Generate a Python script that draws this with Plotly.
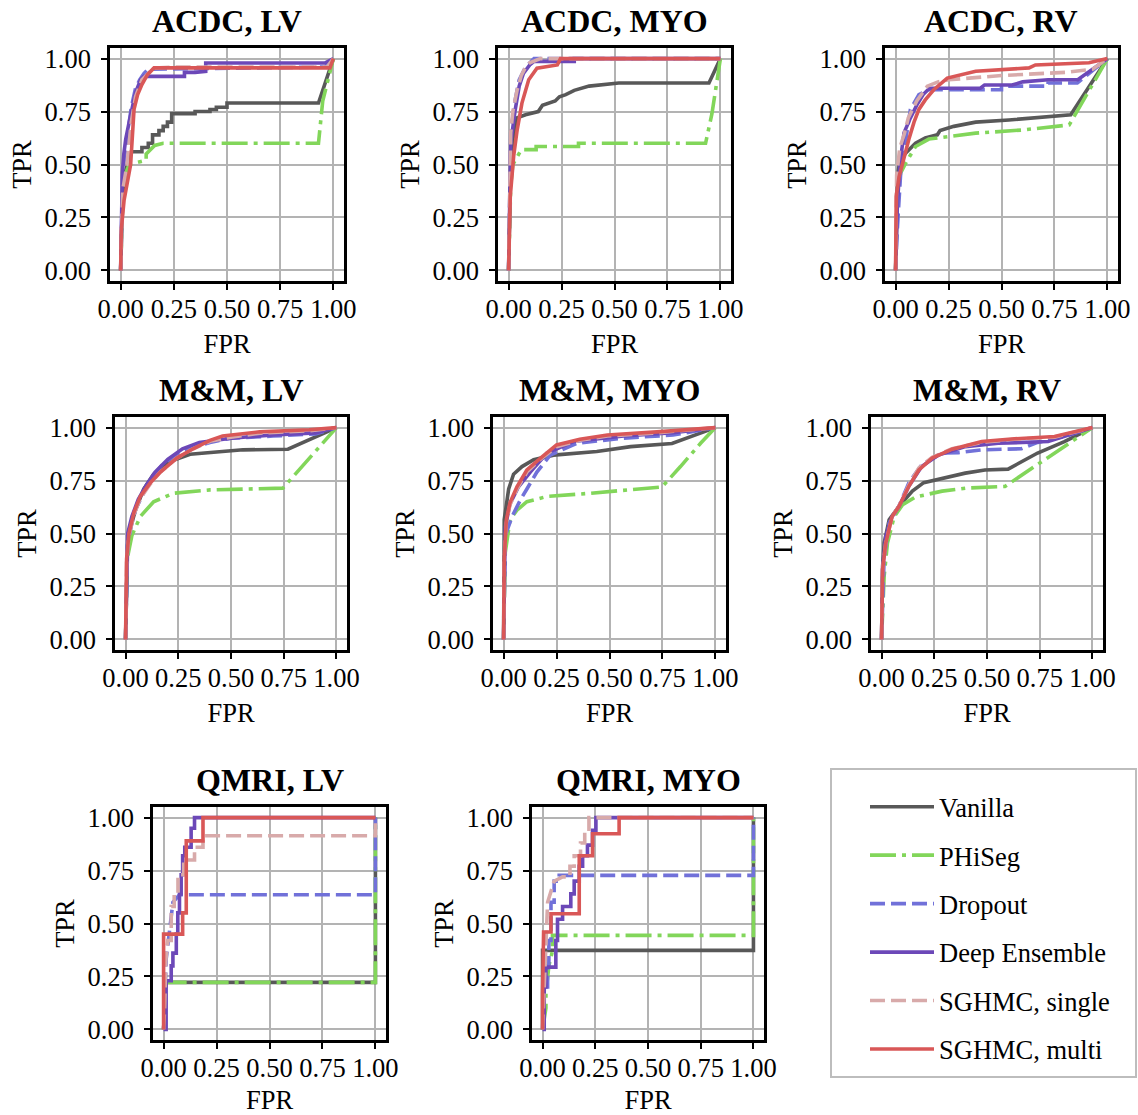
import plotly.graph_objects as go

# ---------------- metadata ----------------
methods = ["Vanilla", "PHiSeg", "Dropout", "Deep Ensemble", "SGHMC, single", "SGHMC, multi"]
colors = ["#585858", "#82d65a", "#7171d9", "#6c48b8", "#d8aaaa", "#d95757"]
dashes = ["solid", "26px,6px,4px,6px", "15px,6px", "solid", "15px,6px", "solid"]
panel_titles = ["ACDC, LV", "ACDC, MYO", "ACDC, RV",
                "M&M, LV", "M&M, MYO", "M&M, RV",
                "QMRI, LV", "QMRI, MYO"]
tick_vals = [0, 0.25, 0.5, 0.75, 1.0]
tick_text = ["0.00", "0.25", "0.50", "0.75", "1.00"]

# ---------------- ACDC, LV ----------------
acdc_lv_vanilla_fpr = [0, 0.005, 0.01, 0.02, 0.03, 0.05, 0.1, 0.1, 0.13, 0.13, 0.15, 0.15, 0.18, 0.18, 0.2, 0.2, 0.22, 0.22, 0.24, 0.24, 0.35, 0.35, 0.42, 0.42, 0.45, 0.45, 0.5, 0.5, 0.93, 1.0]
acdc_lv_vanilla_tpr = [0, 0.2, 0.35, 0.45, 0.5, 0.56, 0.56, 0.58, 0.58, 0.6, 0.6, 0.64, 0.64, 0.66, 0.66, 0.68, 0.68, 0.7, 0.7, 0.74, 0.74, 0.75, 0.75, 0.76, 0.76, 0.77, 0.77, 0.79, 0.79, 1.0]
acdc_lv_phiseg_fpr = [0, 0.005, 0.01, 0.02, 0.04, 0.08, 0.12, 0.12, 0.14, 0.16, 0.2, 0.93, 0.95, 1.0]
acdc_lv_phiseg_tpr = [0, 0.2, 0.35, 0.45, 0.5, 0.51, 0.52, 0.55, 0.57, 0.59, 0.6, 0.6, 0.8, 1.0]
acdc_lv_dropout_fpr = [0, 0.005, 0.01, 0.02, 0.03, 0.05, 0.07, 0.09, 0.11, 0.13, 0.96, 1.0]
acdc_lv_dropout_tpr = [0, 0.3, 0.45, 0.55, 0.62, 0.77, 0.86, 0.9, 0.93, 0.95, 0.96, 1.0]
acdc_lv_deep_fpr = [0, 0.004, 0.008, 0.015, 0.024, 0.04, 0.055, 0.07, 0.094, 0.11, 0.3, 0.3, 0.35, 0.4, 0.4, 0.96, 1.0]
acdc_lv_deep_tpr = [0, 0.3, 0.46, 0.55, 0.62, 0.7, 0.77, 0.84, 0.9, 0.916, 0.916, 0.935, 0.935, 0.94, 0.979, 0.979, 1.0]
acdc_lv_single_fpr = [0, 0.005, 0.01, 0.03, 0.05, 0.07, 0.1, 0.14, 0.16, 0.25, 0.97, 1.0]
acdc_lv_single_tpr = [0, 0.25, 0.38, 0.5, 0.7, 0.82, 0.9, 0.94, 0.955, 0.96, 0.96, 1.0]
acdc_lv_multi_fpr = [0, 0.003, 0.016, 0.03, 0.047, 0.063, 0.08, 0.10, 0.126, 0.157, 0.984, 1.0]
acdc_lv_multi_tpr = [0, 0.19, 0.33, 0.41, 0.5, 0.76, 0.83, 0.877, 0.924, 0.956, 0.956, 1.0]

# ---------------- ACDC, MYO ----------------
acdc_myo_vanilla_fpr = [0, 0.005, 0.01, 0.02, 0.03, 0.04, 0.08, 0.14, 0.16, 0.22, 0.24, 0.27, 0.31, 0.38, 0.52, 0.946, 1.0]
acdc_myo_vanilla_tpr = [0, 0.3, 0.5, 0.62, 0.68, 0.72, 0.735, 0.75, 0.78, 0.80, 0.82, 0.83, 0.85, 0.87, 0.885, 0.885, 1.0]
acdc_myo_phiseg_fpr = [0, 0.005, 0.01, 0.02, 0.047, 0.06, 0.13, 0.13, 0.33, 0.33, 0.93, 0.96, 1.0]
acdc_myo_phiseg_tpr = [0, 0.25, 0.4, 0.5, 0.545, 0.57, 0.57, 0.585, 0.585, 0.6, 0.6, 0.74, 1.0]
acdc_myo_dropout_fpr = [0, 0.005, 0.01, 0.03, 0.05, 0.08, 0.12, 1.0]
acdc_myo_dropout_tpr = [0, 0.45, 0.65, 0.8, 0.9, 0.96, 1.0, 1.0]
acdc_myo_deep_fpr = [0, 0.005, 0.01, 0.03, 0.05, 0.07, 0.1, 0.12, 0.31, 0.31, 1.0]
acdc_myo_deep_tpr = [0, 0.4, 0.6, 0.75, 0.87, 0.93, 0.97, 0.987, 0.987, 1.0, 1.0]
acdc_myo_single_fpr = [0, 0.005, 0.01, 0.02, 0.04, 0.06, 0.08, 0.1, 0.15, 1.0]
acdc_myo_single_tpr = [0, 0.5, 0.65, 0.75, 0.85, 0.92, 0.96, 0.98, 1.0, 1.0]
acdc_myo_multi_fpr = [0, 0.008, 0.024, 0.04, 0.063, 0.095, 0.134, 0.23, 0.245, 1.0]
acdc_myo_multi_tpr = [0, 0.35, 0.54, 0.66, 0.79, 0.90, 0.955, 0.97, 1.0, 1.0]

# ---------------- ACDC, RV ----------------
acdc_rv_vanilla_fpr = [0, 0.005, 0.01, 0.02, 0.047, 0.094, 0.14, 0.197, 0.21, 0.275, 0.378, 0.535, 0.646, 0.78, 0.827, 1.0]
acdc_rv_vanilla_tpr = [0, 0.3, 0.45, 0.52, 0.553, 0.6, 0.625, 0.64, 0.66, 0.68, 0.70, 0.71, 0.72, 0.73, 0.735, 1.0]
acdc_rv_phiseg_fpr = [0, 0.005, 0.01, 0.024, 0.047, 0.094, 0.157, 0.25, 0.378, 0.6, 0.82, 1.0]
acdc_rv_phiseg_tpr = [0, 0.2, 0.38, 0.46, 0.505, 0.585, 0.62, 0.632, 0.648, 0.663, 0.687, 1.0]
acdc_rv_dropout_fpr = [0, 0.008, 0.024, 0.047, 0.07, 0.11, 0.157, 0.50, 0.50, 0.72, 0.72, 0.858, 1.0]
acdc_rv_dropout_tpr = [0, 0.19, 0.46, 0.62, 0.76, 0.83, 0.853, 0.853, 0.87, 0.87, 0.885, 0.885, 1.0]
acdc_rv_deep_fpr = [0, 0.008, 0.02, 0.04, 0.07, 0.1, 0.13, 0.16, 0.40, 0.42, 0.55, 0.6, 0.72, 0.86, 1.0]
acdc_rv_deep_tpr = [0, 0.3, 0.5, 0.65, 0.72, 0.78, 0.83, 0.86, 0.86, 0.875, 0.875, 0.89, 0.90, 0.90, 1.0]
acdc_rv_single_fpr = [0, 0.005, 0.02, 0.04, 0.06, 0.1, 0.15, 0.2, 0.25, 0.5, 0.8, 0.93, 1.0]
acdc_rv_single_tpr = [0, 0.45, 0.58, 0.64, 0.72, 0.8, 0.87, 0.89, 0.9, 0.92, 0.935, 0.95, 1.0]
acdc_rv_multi_fpr = [0, 0.003, 0.016, 0.04, 0.063, 0.087, 0.11, 0.14, 0.18, 0.244, 0.378, 0.63, 0.66, 0.913, 1.0]
acdc_rv_multi_tpr = [0, 0.35, 0.44, 0.54, 0.62, 0.70, 0.76, 0.805, 0.853, 0.908, 0.94, 0.956, 0.97, 0.98, 1.0]

# ---------------- M&M, LV ----------------
mm_lv_vanilla_fpr = [0, 0.005, 0.01, 0.024, 0.047, 0.086, 0.133, 0.19, 0.21, 0.306, 0.557, 0.77, 1.0]
mm_lv_vanilla_tpr = [0, 0.35, 0.45, 0.53, 0.61, 0.71, 0.78, 0.824, 0.84, 0.874, 0.895, 0.898, 1.0]
mm_lv_phiseg_fpr = [0, 0.003, 0.008, 0.03, 0.07, 0.133, 0.228, 0.40, 0.746, 1.0]
mm_lv_phiseg_tpr = [0, 0.3, 0.38, 0.49, 0.58, 0.65, 0.69, 0.706, 0.714, 1.0]
mm_lv_dropout_fpr = [0, 0.005, 0.01, 0.03, 0.05, 0.08, 0.1, 0.13, 0.17, 0.22, 0.3, 0.4, 0.5, 0.7, 0.9, 1.0]
mm_lv_dropout_tpr = [0, 0.35, 0.45, 0.55, 0.62, 0.68, 0.72, 0.77, 0.82, 0.86, 0.9, 0.93, 0.95, 0.96, 0.97, 1.0]
mm_lv_deep_fpr = [0, 0.005, 0.01, 0.03, 0.06, 0.1, 0.14, 0.2, 0.27, 0.35, 0.5, 0.7, 0.9, 1.0]
mm_lv_deep_tpr = [0, 0.4, 0.5, 0.58, 0.66, 0.73, 0.79, 0.85, 0.9, 0.93, 0.95, 0.965, 0.975, 1.0]
mm_lv_single_fpr = [0, 0.005, 0.016, 0.04, 0.07, 0.118, 0.165, 0.243, 0.32, 0.4, 0.5, 0.65, 0.87, 1.0]
mm_lv_single_tpr = [0, 0.37, 0.49, 0.59, 0.665, 0.735, 0.79, 0.856, 0.9, 0.935, 0.955, 0.975, 0.985, 1.0]
mm_lv_multi_fpr = [0, 0.005, 0.016, 0.04, 0.07, 0.118, 0.165, 0.243, 0.32, 0.40, 0.46, 0.636, 0.87, 1.0]
mm_lv_multi_tpr = [0, 0.38, 0.50, 0.60, 0.675, 0.74, 0.79, 0.856, 0.90, 0.94, 0.96, 0.98, 0.99, 1.0]

# ---------------- M&M, MYO ----------------
mm_myo_vanilla_fpr = [0, 0.001, 0.003, 0.024, 0.047, 0.087, 0.142, 0.236, 0.44, 0.60, 0.795, 1.0]
mm_myo_vanilla_tpr = [0, 0.4, 0.565, 0.71, 0.78, 0.816, 0.848, 0.87, 0.887, 0.91, 0.925, 1.0]
mm_myo_phiseg_fpr = [0, 0.003, 0.008, 0.03, 0.063, 0.11, 0.205, 0.41, 0.614, 0.748, 0.835, 0.93, 1.0]
mm_myo_phiseg_tpr = [0, 0.3, 0.41, 0.565, 0.61, 0.65, 0.675, 0.69, 0.707, 0.72, 0.816, 0.926, 1.0]
mm_myo_dropout_fpr = [0, 0.003, 0.008, 0.04, 0.08, 0.11, 0.157, 0.22, 0.346, 0.567, 0.80, 1.0]
mm_myo_dropout_tpr = [0, 0.35, 0.49, 0.58, 0.66, 0.71, 0.79, 0.87, 0.926, 0.95, 0.965, 1.0]
mm_myo_deep_fpr = [0, 0.003, 0.008, 0.03, 0.07, 0.126, 0.205, 0.33, 0.567, 0.8, 1.0]
mm_myo_deep_tpr = [0, 0.4, 0.53, 0.64, 0.72, 0.79, 0.88, 0.934, 0.96, 0.976, 1.0]
mm_myo_single_fpr = [0, 0.003, 0.013, 0.03, 0.063, 0.11, 0.173, 0.25, 0.36, 0.49, 0.724, 1.0]
mm_myo_single_tpr = [0, 0.38, 0.55, 0.635, 0.71, 0.79, 0.85, 0.91, 0.94, 0.96, 0.975, 1.0]
mm_myo_multi_fpr = [0, 0.003, 0.013, 0.03, 0.063, 0.11, 0.173, 0.25, 0.36, 0.49, 0.724, 1.0]
mm_myo_multi_tpr = [0, 0.38, 0.565, 0.645, 0.72, 0.80, 0.855, 0.918, 0.945, 0.965, 0.98, 1.0]

# ---------------- M&M, RV ----------------
mm_rv_vanilla_fpr = [0, 0.005, 0.0125, 0.036, 0.083, 0.146, 0.20, 0.287, 0.397, 0.49, 0.60, 0.74, 0.867, 1.0]
mm_rv_vanilla_tpr = [0, 0.345, 0.455, 0.565, 0.628, 0.70, 0.74, 0.76, 0.785, 0.80, 0.804, 0.88, 0.934, 1.0]
mm_rv_phiseg_fpr = [0, 0.0125, 0.028, 0.06, 0.10, 0.16, 0.287, 0.397, 0.585, 0.726, 0.867, 1.0]
mm_rv_phiseg_tpr = [0, 0.30, 0.455, 0.58, 0.636, 0.672, 0.70, 0.714, 0.722, 0.816, 0.91, 1.0]
mm_rv_dropout_fpr = [0, 0.012, 0.036, 0.083, 0.13, 0.19, 0.287, 0.365, 0.475, 0.663, 0.74, 0.867, 1.0]
mm_rv_dropout_tpr = [0, 0.38, 0.55, 0.63, 0.74, 0.824, 0.88, 0.882, 0.895, 0.90, 0.93, 0.958, 1.0]
mm_rv_deep_fpr = [0, 0.005, 0.02, 0.05, 0.083, 0.13, 0.19, 0.27, 0.397, 0.553, 0.79, 1.0]
mm_rv_deep_tpr = [0, 0.33, 0.487, 0.58, 0.628, 0.724, 0.816, 0.87, 0.91, 0.926, 0.934, 1.0]
mm_rv_single_fpr = [0, 0.005, 0.02, 0.05, 0.083, 0.13, 0.177, 0.24, 0.334, 0.475, 0.63, 0.82, 1.0]
mm_rv_single_tpr = [0, 0.33, 0.455, 0.58, 0.63, 0.73, 0.81, 0.86, 0.9, 0.93, 0.945, 0.955, 1.0]
mm_rv_multi_fpr = [0, 0.005, 0.02, 0.05, 0.083, 0.13, 0.177, 0.24, 0.334, 0.475, 0.63, 0.82, 1.0]
mm_rv_multi_tpr = [0, 0.33, 0.455, 0.58, 0.628, 0.724, 0.80, 0.856, 0.898, 0.934, 0.947, 0.958, 1.0]

# ---------------- QMRI, LV ----------------
qmri_lv_vanilla_fpr = [0, 0.01, 1.0, 1.0]
qmri_lv_vanilla_tpr = [0, 0.222, 0.222, 1.0]
qmri_lv_phiseg_fpr = [0, 0.01, 1.0, 1.0]
qmri_lv_phiseg_tpr = [0, 0.222, 0.222, 1.0]
qmri_lv_dropout_fpr = [0, 0.005, 0.012, 0.028, 0.044, 0.075, 1.0, 1.0]
qmri_lv_dropout_tpr = [0, 0.1, 0.33, 0.45, 0.6, 0.636, 0.636, 1.0]
qmri_lv_deep_fpr = [0, 0.012, 0.012, 0.036, 0.036, 0.044, 0.044, 0.06, 0.06, 0.067, 0.067, 0.075, 0.075, 0.083, 0.083, 0.09, 0.09, 0.1, 0.1, 0.13, 0.13, 0.146, 0.146, 1.0]
qmri_lv_deep_tpr = [0, 0.0, 0.23, 0.23, 0.3, 0.3, 0.36, 0.36, 0.45, 0.45, 0.55, 0.55, 0.64, 0.64, 0.73, 0.73, 0.82, 0.82, 0.86, 0.86, 0.95, 0.95, 1.0, 1.0]
qmri_lv_single_fpr = [0, 0.005, 0.01, 0.02, 0.036, 0.036, 0.05, 0.05, 0.068, 0.068, 0.095, 0.095, 0.146, 0.146, 0.186, 0.186, 1.0, 1.0]
qmri_lv_single_tpr = [0, 0.1, 0.32, 0.42, 0.42, 0.58, 0.58, 0.64, 0.64, 0.73, 0.73, 0.8, 0.8, 0.86, 0.86, 0.914, 0.914, 1.0]
qmri_lv_multi_fpr = [0, 0, 0.09, 0.09, 0.107, 0.107, 0.186, 0.186, 1.0]
qmri_lv_multi_tpr = [0, 0.45, 0.45, 0.55, 0.55, 0.89, 0.89, 1.0, 1.0]

# ---------------- QMRI, MYO ----------------
qmri_myo_vanilla_fpr = [0, 0, 1.0, 1.0]
qmri_myo_vanilla_tpr = [0, 0.373, 0.373, 1.0]
qmri_myo_phiseg_fpr = [0, 0.016, 0.016, 0.03, 0.047, 0.047, 1.0, 1.0]
qmri_myo_phiseg_tpr = [0, 0.1, 0.17, 0.3, 0.37, 0.444, 0.444, 1.0]
qmri_myo_dropout_fpr = [0, 0.008, 0.024, 0.024, 0.03, 0.03, 0.04, 0.04, 0.055, 0.055, 0.079, 0.079, 1.0, 1.0]
qmri_myo_dropout_tpr = [0, 0.2, 0.2, 0.3, 0.3, 0.42, 0.42, 0.6, 0.6, 0.7, 0.7, 0.727, 0.727, 1.0]
qmri_myo_deep_fpr = [0, 0.008, 0.008, 0.016, 0.016, 0.063, 0.063, 0.071, 0.071, 0.095, 0.095, 0.134, 0.134, 0.15, 0.15, 0.174, 0.174, 0.19, 0.19, 0.213, 0.213, 0.237, 0.237, 0.253, 0.253, 1.0]
qmri_myo_deep_tpr = [0, 0.0, 0.2, 0.2, 0.294, 0.294, 0.42, 0.42, 0.52, 0.52, 0.58, 0.58, 0.64, 0.64, 0.7, 0.7, 0.77, 0.77, 0.82, 0.82, 0.87, 0.87, 0.94, 0.94, 1.0, 1.0]
qmri_myo_single_fpr = [0, 0.008, 0.016, 0.024, 0.055, 0.095, 0.13, 0.13, 0.15, 0.15, 0.18, 0.18, 0.2, 0.2, 0.22, 0.22, 1.0]
qmri_myo_single_tpr = [0, 0.25, 0.4, 0.6, 0.7, 0.72, 0.72, 0.77, 0.77, 0.82, 0.82, 0.88, 0.88, 0.93, 0.93, 1.0, 1.0]
qmri_myo_multi_fpr = [0, 0, 0.005, 0.04, 0.04, 0.174, 0.174, 0.237, 0.237, 0.363, 0.363, 1.0]
qmri_myo_multi_tpr = [0, 0.17, 0.46, 0.46, 0.546, 0.546, 0.82, 0.82, 0.924, 0.924, 1.0, 1.0]

panels = [
    [(acdc_lv_vanilla_fpr, acdc_lv_vanilla_tpr), (acdc_lv_phiseg_fpr, acdc_lv_phiseg_tpr),
     (acdc_lv_dropout_fpr, acdc_lv_dropout_tpr), (acdc_lv_deep_fpr, acdc_lv_deep_tpr),
     (acdc_lv_single_fpr, acdc_lv_single_tpr), (acdc_lv_multi_fpr, acdc_lv_multi_tpr)],
    [(acdc_myo_vanilla_fpr, acdc_myo_vanilla_tpr), (acdc_myo_phiseg_fpr, acdc_myo_phiseg_tpr),
     (acdc_myo_dropout_fpr, acdc_myo_dropout_tpr), (acdc_myo_deep_fpr, acdc_myo_deep_tpr),
     (acdc_myo_single_fpr, acdc_myo_single_tpr), (acdc_myo_multi_fpr, acdc_myo_multi_tpr)],
    [(acdc_rv_vanilla_fpr, acdc_rv_vanilla_tpr), (acdc_rv_phiseg_fpr, acdc_rv_phiseg_tpr),
     (acdc_rv_dropout_fpr, acdc_rv_dropout_tpr), (acdc_rv_deep_fpr, acdc_rv_deep_tpr),
     (acdc_rv_single_fpr, acdc_rv_single_tpr), (acdc_rv_multi_fpr, acdc_rv_multi_tpr)],
    [(mm_lv_vanilla_fpr, mm_lv_vanilla_tpr), (mm_lv_phiseg_fpr, mm_lv_phiseg_tpr),
     (mm_lv_dropout_fpr, mm_lv_dropout_tpr), (mm_lv_deep_fpr, mm_lv_deep_tpr),
     (mm_lv_single_fpr, mm_lv_single_tpr), (mm_lv_multi_fpr, mm_lv_multi_tpr)],
    [(mm_myo_vanilla_fpr, mm_myo_vanilla_tpr), (mm_myo_phiseg_fpr, mm_myo_phiseg_tpr),
     (mm_myo_dropout_fpr, mm_myo_dropout_tpr), (mm_myo_deep_fpr, mm_myo_deep_tpr),
     (mm_myo_single_fpr, mm_myo_single_tpr), (mm_myo_multi_fpr, mm_myo_multi_tpr)],
    [(mm_rv_vanilla_fpr, mm_rv_vanilla_tpr), (mm_rv_phiseg_fpr, mm_rv_phiseg_tpr),
     (mm_rv_dropout_fpr, mm_rv_dropout_tpr), (mm_rv_deep_fpr, mm_rv_deep_tpr),
     (mm_rv_single_fpr, mm_rv_single_tpr), (mm_rv_multi_fpr, mm_rv_multi_tpr)],
    [(qmri_lv_vanilla_fpr, qmri_lv_vanilla_tpr), (qmri_lv_phiseg_fpr, qmri_lv_phiseg_tpr),
     (qmri_lv_dropout_fpr, qmri_lv_dropout_tpr), (qmri_lv_deep_fpr, qmri_lv_deep_tpr),
     (qmri_lv_single_fpr, qmri_lv_single_tpr), (qmri_lv_multi_fpr, qmri_lv_multi_tpr)],
    [(qmri_myo_vanilla_fpr, qmri_myo_vanilla_tpr), (qmri_myo_phiseg_fpr, qmri_myo_phiseg_tpr),
     (qmri_myo_dropout_fpr, qmri_myo_dropout_tpr), (qmri_myo_deep_fpr, qmri_myo_deep_tpr),
     (qmri_myo_single_fpr, qmri_myo_single_tpr), (qmri_myo_multi_fpr, qmri_myo_multi_tpr)],
]

# ---------------- layout geometry (pixels) ----------------
W, H = 1138, 1115
# (left, right, top, bottom) of each axes box in pixels
boxes = [
    (110, 344, 48, 281), (498, 731, 48, 281), (885, 1118, 48, 281),
    (115, 347, 417, 650), (493, 726, 417, 650), (871, 1103, 417, 650),
    (153, 386, 807, 1040), (532, 764, 807, 1040),
]

FONT = "Liberation Serif"
FS = 26.5
fig = go.Figure()
layout = {}
annotations = []

for i, (title, series) in enumerate(zip(panel_titles, panels)):
    n = i + 1
    xa = "x" if n == 1 else f"x{n}"
    ya = "y" if n == 1 else f"y{n}"
    for j, (fpr, tpr) in enumerate(series):
        fig.add_trace(go.Scatter(
            x=fpr, y=tpr, mode="lines", name=methods[j],
            legendgroup=methods[j], showlegend=(i == 0),
            line=dict(color=colors[j], width=3.6, dash=dashes[j]),
            xaxis=xa, yaxis=ya,
        ))
    l, r, t, b = boxes[i]
    axis_common = dict(
        range=[-0.05, 1.05], tickvals=tick_vals, ticktext=tick_text,
        showgrid=True, gridcolor="#b3b3b3", gridwidth=1.8,
        zeroline=False, showline=True, linecolor="black", linewidth=2.5,
        mirror=True, ticks="outside", ticklen=6, tickwidth=2, tickcolor="black",
        tickfont=dict(family=FONT, size=FS, color="black"),
        fixedrange=True, automargin=False,
    )
    layout["xaxis" if n == 1 else f"xaxis{n}"] = dict(
        axis_common, domain=[l / W, r / W], anchor=ya,
        ticklabelstandoff=-4,
        title=dict(text="FPR", font=dict(family=FONT, size=FS, color="black"), standoff=12),
    )
    layout["yaxis" if n == 1 else f"yaxis{n}"] = dict(
        axis_common, domain=[1 - b / H, 1 - t / H], anchor=xa,
        ticklabelstandoff=5,
        title=dict(text="TPR", font=dict(family=FONT, size=FS, color="black"), standoff=6),
    )
    annotations.append(dict(
        text=f"<b>{title}</b>", x=(l + r) / 2 / W, y=1 - t / H,
        xref="paper", yref="paper", xanchor="center", yanchor="bottom",
        yshift=7, showarrow=False,
        font=dict(family=FONT, size=32, color="black"),
    ))

# legend frame (drawn as a paper-referenced rectangle)
legend_frame = dict(
    type="rect", xref="paper", yref="paper",
    x0=831 / W, x1=1136 / W, y0=1 - 1077 / H, y1=1 - 769 / H,
    line=dict(color="#bdbdbd", width=2), fillcolor="white", layer="below",
)

fig.update_layout(
    **layout,
    annotations=annotations,
    shapes=[legend_frame],
    width=W, height=H,
    margin=dict(l=0, r=0, t=0, b=0, autoexpand=False),
    paper_bgcolor="white", plot_bgcolor="white",
    font=dict(family=FONT, size=FS, color="black"),
    showlegend=True,
    legend=dict(
        x=865 / W, y=1 - 770 / H, xanchor="left", yanchor="top",
        borderwidth=0, bgcolor="rgba(0,0,0,0)",
        font=dict(family=FONT, size=FS, color="black"),
        title=dict(text=" ", font=dict(size=10)),
        traceorder="grouped", tracegroupgap=11, itemwidth=64,
    ),
)

fig.write_html("out.html", config={"displayModeBar": False})

# remove the default page margin so the figure sits at the window origin
with open("out.html", "r", encoding="utf-8") as f:
    html = f.read()
html = html.replace("<head>", "<head><style>html,body{margin:0;padding:0;overflow:hidden;}</style>", 1)
with open("out.html", "w", encoding="utf-8") as f:
    f.write(html)
